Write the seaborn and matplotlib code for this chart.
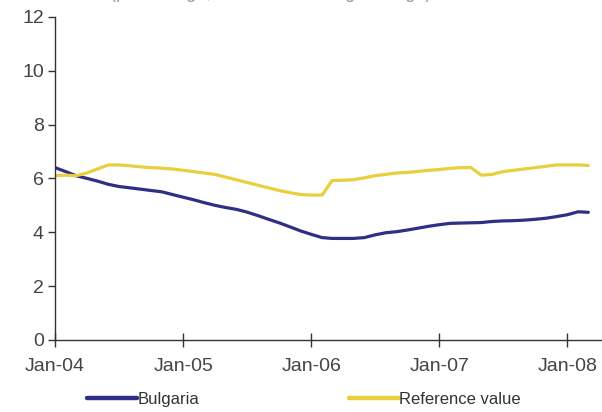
import numpy as np
import pandas as pd
import matplotlib
matplotlib.use("Agg")
import matplotlib.pyplot as plt
import matplotlib.dates as mdates
import seaborn as sns

# Monthly inflation, 12-month moving average (%), Jan-2004 .. Mar-2008
months = pd.date_range("2004-01-01", "2008-03-01", freq="MS")

bulgaria = [
    6.40, 6.25, 6.10, 6.00, 5.90, 5.78, 5.70, 5.65, 5.60, 5.55, 5.50, 5.40,
    5.30, 5.20, 5.10, 5.00, 4.92, 4.85, 4.75, 4.62, 4.48, 4.35, 4.20, 4.05,
    3.92, 3.80, 3.77, 3.77, 3.77, 3.80, 3.90, 3.98, 4.02, 4.08, 4.15, 4.22,
    4.28, 4.33, 4.34, 4.35, 4.36, 4.40, 4.42, 4.43, 4.45, 4.48, 4.52, 4.58,
    4.65, 4.76, 4.74,
]
reference_value = [
    6.10, 6.12, 6.10, 6.20, 6.35, 6.50, 6.50, 6.47, 6.43, 6.40, 6.38, 6.35,
    6.30, 6.25, 6.20, 6.15, 6.05, 5.95, 5.85, 5.75, 5.65, 5.55, 5.47, 5.40,
    5.38, 5.38, 5.92, 5.93, 5.95, 6.02, 6.10, 6.15, 6.20, 6.22, 6.26, 6.30,
    6.33, 6.37, 6.40, 6.40, 6.12, 6.15, 6.25, 6.30, 6.35, 6.40, 6.45, 6.50,
    6.50, 6.50, 6.48,
]

series_names = ["Bulgaria", "Reference value"]
series_colors = ["#2F2F86", "#E9CF3C"]
y_ticks = [0, 2, 4, 6, 8, 10, 12]
x_tick_years = [2004, 2005, 2006, 2007, 2008]

df = pd.DataFrame({
    "month": list(months) * 2,
    "value": bulgaria + reference_value,
    "series": [series_names[0]] * len(months) + [series_names[1]] * len(months),
})

sns.set_theme(style="white")
plt.rcParams["font.family"] = ["Liberation Sans", "DejaVu Sans"]

fig = plt.figure(figsize=(6.02, 4.12), dpi=100)
ax = fig.add_axes([0.0914, 0.175, 0.9086, 0.784])

sns.lineplot(data=df, x="month", y="value", hue="series",
             palette=dict(zip(series_names, series_colors)),
             linewidth=2.3, ax=ax, legend=False)

ax.set_xlim(pd.Timestamp("2004-01-01"), pd.Timestamp("2008-04-09"))
ax.set_ylim(0, 12)
ax.set_yticks(y_ticks)
ax.set_xticks([pd.Timestamp(f"{y}-01-01") for y in x_tick_years])
ax.xaxis.set_major_formatter(mdates.DateFormatter("%b-%y"))
ax.set_xlabel("")
ax.set_ylabel("")

for side in ["top", "right"]:
    ax.spines[side].set_visible(False)
for side in ["left", "bottom"]:
    ax.spines[side].set_color("#333333")
    ax.spines[side].set_linewidth(1.0)

ax.tick_params(axis="x", direction="inout", length=10, width=1.0,
               colors="#333333", labelsize=14, pad=8, bottom=True)
ax.tick_params(axis="y", direction="out", length=5, width=1.0,
               colors="#333333", labelsize=14, pad=3, left=True)
for lbl in ax.get_xticklabels() + ax.get_yticklabels():
    lbl.set_color("#444444")

# Legend below the plot
handles = [plt.Line2D([], [], color=c, linewidth=3.2) for c in series_colors]
fig.legend(handles, series_names, loc="lower left",
           bbox_to_anchor=(0.12, -0.025), ncol=2, frameon=False,
           fontsize=12, handlelength=3.0, handletextpad=0.0,
           columnspacing=9.0, labelcolor="#333333")

# Subtitle running off the top edge
fig.text(0.45, 1.004, "(percentage, 12-month moving average)", ha="center",
         va="baseline", fontsize=13, color="#9a9a9a")

fig.savefig("out.png", dpi=100)
